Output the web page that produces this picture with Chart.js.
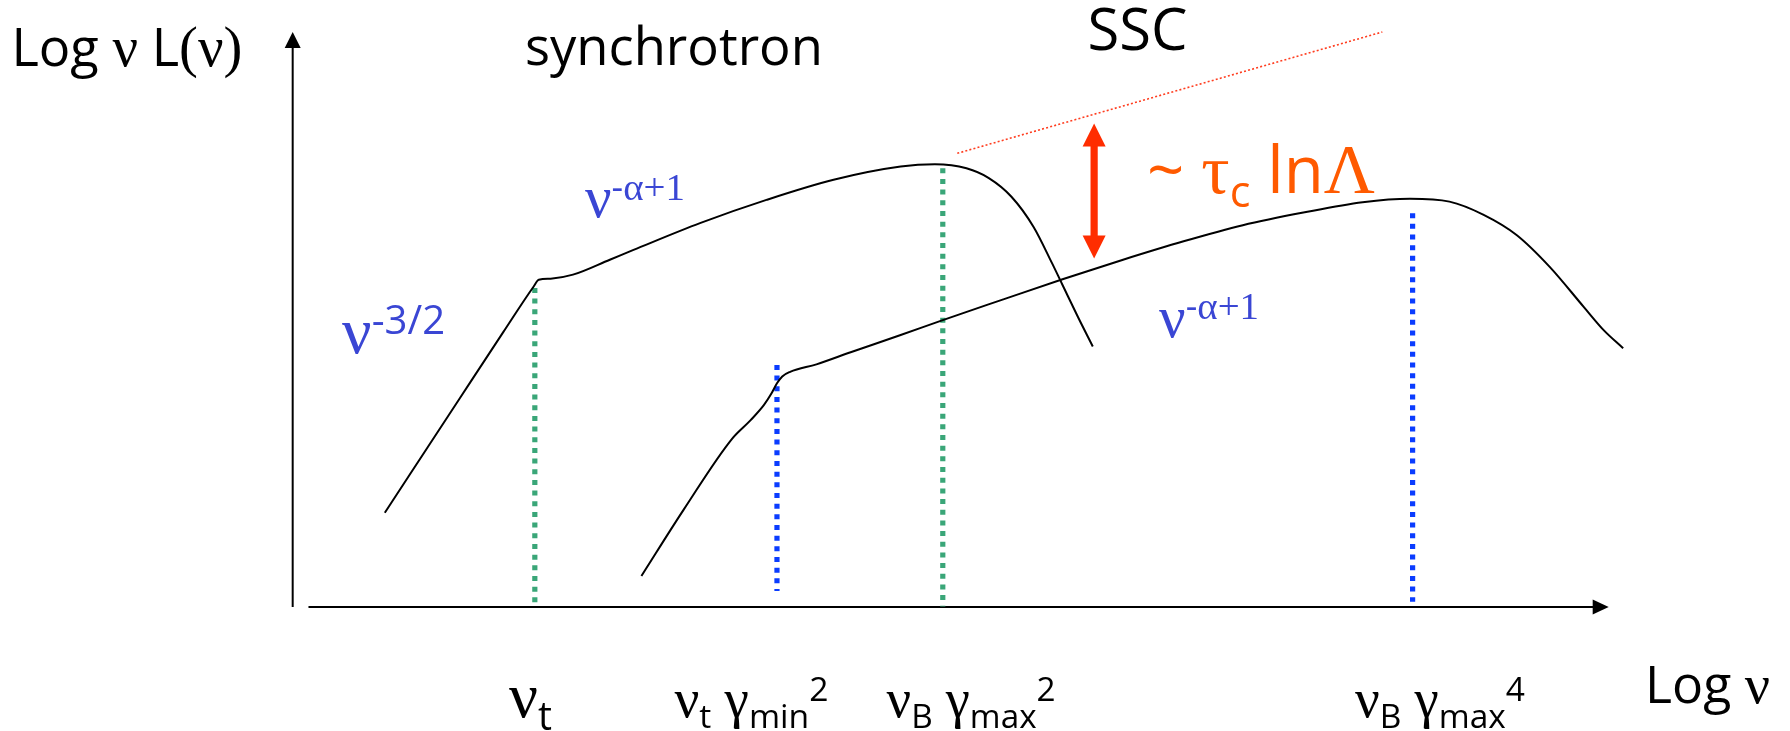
<!DOCTYPE html>
<html>
<head>
<meta charset="utf-8">
<style>
  html, body { margin: 0; padding: 0; background: #ffffff; }
  #wrap { width: 1790px; height: 731px; position: relative; }
</style>
<script src="https://cdn.jsdelivr.net/npm/chart.js@4.4.1/dist/chart.umd.min.js"></script>
</head>
<body>
<div id="wrap"><canvas id="sed" width="1790" height="731"></canvas></div>
<script>
// Schematic spectral energy distribution: log nu vs log nu L(nu), arbitrary units.

// Synchrotron component
const synchLogNu = [0.69, 1.26, 1.59, 1.82, 1.86, 1.95, 2.12, 2.40, 2.58, 3.09, 3.59, 4.10, 4.61, 4.87, 5.11, 5.28, 5.45, 5.62, 5.76, 5.84, 5.96, 6.07];
const synchLogL  = [1.64, 3.63, 4.78, 5.57, 5.69, 5.71, 5.78, 6.04, 6.21, 6.68, 7.08, 7.43, 7.66, 7.70, 7.63, 7.46, 7.14, 6.61, 5.98, 5.60, 5.03, 4.53];

// Synchrotron self-Compton component
const sscLogNu = [2.64, 2.96, 3.33, 3.47, 3.57, 3.63, 3.67, 3.71, 3.77, 3.97, 4.23, 4.61, 4.93, 5.39, 5.84, 6.30, 6.76, 7.21, 7.67, 8.12, 8.48, 8.78, 9.04, 9.29, 9.54, 9.80, 9.95, 10.10];
const sscLogL  = [0.54, 1.69, 2.93, 3.25, 3.51, 3.72, 3.89, 4.01, 4.09, 4.22, 4.43, 4.73, 4.99, 5.35, 5.70, 6.04, 6.36, 6.64, 6.86, 7.04, 7.10, 7.05, 6.82, 6.47, 5.92, 5.22, 4.82, 4.50];

// Characteristic frequencies (dotted markers) and their labels
const markLogNu   = [1.83, 3.67, 4.93, 8.50];
const markLowL    = [0.07, 0.28, 0.01, 0.09];
const markHighL   = [5.55, 4.21, 7.63, 6.85];
const markLabels  = ['ν_{t}', 'ν_{t} γ_{min}^{2}', 'ν_{B} γ_{max}^{2}', 'ν_{B} γ_{max}^{4}'];

// Extrapolated SSC level (thin dotted line) and the offset arrow
const levelLogNu = [5.04, 8.27];
const levelLogL  = [7.89, 10.0];
const offsetLogNu = 6.08;
const offsetLogL  = [6.06, 8.41];

// Axis extents
const axisMaxLogNu = 9.99;
const axisMaxLogL  = 10.0;

// ---------- styling ----------
const SANS  = '"Open Sans", "DejaVu Sans", sans-serif';
const SERIF = '"Liberation Serif", "DejaVu Serif", serif';
const GREEN = '#3aa678';
const BLUE  = '#0a3cff';
const markColors = [GREEN, BLUE, GREEN, BLUE];
const markDash   = [5, 5.67];
const LABEL_BLUE = '#3a46d4';
const ORANGE = '#ff5a00';
const ARROW_RED = '#ff2d00';

// text annotations: position in data units, width in px
const textItems = [
  { s: 'Log ν L(ν)',       x: -2.147, y: 9.409, w: 231, color: '#000' },
  { s: 'synchrotron',      x: 1.755,  y: 9.426, w: 298, color: '#000' },
  { s: 'SSC',              x: 6.030,  y: 9.687, w: 100, color: '#000' },
  { s: 'ν^{-α+1}',         x: 2.211,  y: 6.783, w: 100, color: LABEL_BLUE },
  { s: 'ν^{-3/2}',         x: 0.365,  y: 4.417, w: 103, color: LABEL_BLUE },
  { s: 'ν^{-α+1}',         x: 6.573,  y: 4.701, w: 100, color: LABEL_BLUE },
  { s: '~ τ_{c} lnΛ',      x: 6.482,  y: 7.200, w: 228, color: ORANGE },
  { s: 'Log ν',            x: 10.266, y: -1.670, w: 125, color: '#000' }
];
const markLabelX = [1.634, 2.891, 4.503, 8.062];
const markLabelW = [43, 154, 169, 170];
const markLabelY = -1.913;

// ---------- rich text (sub/superscripts, Greek in serif) ----------
function parseRich(str) {
  const runs = [];
  let buf = '', i = 0;
  const push = (t, lvl) => { if (t) runs.push({ t, lvl }); };
  while (i < str.length) {
    const ch = str[i];
    if ((ch === '_' || ch === '^') && str[i + 1] === '{') {
      push(buf, 0); buf = '';
      const j = str.indexOf('}', i);
      push(str.slice(i + 2, j), ch === '_' ? -1 : 1);
      i = j + 1;
    } else { buf += ch; i++; }
  }
  push(buf, 0);
  const isGreek = c => /[\u0370-\u03ff]/.test(c);
  const pieces = [];
  runs.forEach(r => {
    const greekRun = r.lvl !== 0 && [...r.t].some(isGreek);
    let cur = '', curSerif = null;
    for (const c of r.t) {
      let serif;
      if (greekRun) serif = c !== '-';
      else serif = isGreek(c) || c === '(' || c === ')';
      if (curSerif !== null && serif !== curSerif) {
        pieces.push({ t: cur, lvl: r.lvl, serif: curSerif }); cur = '';
      }
      cur += c; curSerif = serif;
    }
    if (cur) pieces.push({ t: cur, lvl: r.lvl, serif: curSerif });
  });
  return pieces;
}

function fontFor(p, size) {
  const s = p.lvl === 0 ? size : size * 0.66;
  const fs = p.serif ? s * 1.08 : s;
  return `${fs.toFixed(2)}px ${p.serif ? SERIF : SANS}`;
}

function drawRich(ctx, str, x, y, width, color) {
  const pieces = parseRich(str);
  const measure = size => pieces.reduce((w, p) => { ctx.font = fontFor(p, size); return w + ctx.measureText(p.t).width; }, 0);
  const size = 50 * width / measure(50);
  ctx.fillStyle = color;
  ctx.textBaseline = 'alphabetic';
  ctx.textAlign = 'left';
  let cx = x;
  pieces.forEach(p => {
    ctx.font = fontFor(p, size);
    const dy = p.lvl < 0 ? 0.22 * size : p.lvl > 0 ? -0.32 * size : 0;
    ctx.fillText(p.t, cx, y + dy);
    cx += ctx.measureText(p.t).width;
  });
}

// ---------- datasets ----------
const toPts = (xs, ys) => xs.map((x, i) => ({ x, y: ys[i] }));
const curveStyle = {
  borderColor: '#000', borderWidth: 2, pointRadius: 0, fill: false,
  cubicInterpolationMode: 'monotone'
};
const datasets = [
  { label: 'synchrotron', data: toPts(synchLogNu, synchLogL), ...curveStyle },
  { label: 'SSC', data: toPts(sscLogNu, sscLogL), ...curveStyle },
  { label: 'SSC level', data: toPts(levelLogNu, levelLogL), borderColor: '#ff3d1f', borderWidth: 1.6, borderDash: [2, 2.2], pointRadius: 0, fill: false }
];
markLogNu.forEach((x, i) => {
  datasets.push({
    label: markLabels[i],
    data: [{ x, y: markHighL[i] }, { x, y: markLowL[i] }],
    borderColor: markColors[i], borderWidth: 5.2, borderDash: markDash,
    borderCapStyle: 'butt', pointRadius: 0, fill: false
  });
});

// ---------- axes, arrow and annotations ----------
const schematicPlugin = {
  id: 'schematic',
  beforeDatasetsDraw(chart) {
    const { ctx, scales: { x: sx, y: sy } } = chart;
    const x0 = sx.getPixelForValue(-0.01), y0 = sy.getPixelForValue(0);
    const yTop = sy.getPixelForValue(axisMaxLogL);
    const xEnd = sx.getPixelForValue(axisMaxLogNu);
    ctx.save();
    ctx.strokeStyle = '#000'; ctx.fillStyle = '#000'; ctx.lineWidth = 2;
    // vertical axis
    ctx.beginPath(); ctx.moveTo(x0, y0); ctx.lineTo(x0, yTop + 14); ctx.stroke();
    ctx.beginPath(); ctx.moveTo(x0, yTop); ctx.lineTo(x0 - 8, yTop + 16); ctx.lineTo(x0 + 8, yTop + 16); ctx.closePath(); ctx.fill();
    // horizontal axis
    const xStart = sx.getPixelForValue(0.11);
    ctx.beginPath(); ctx.moveTo(xStart, y0); ctx.lineTo(xEnd - 14, y0); ctx.stroke();
    ctx.beginPath(); ctx.moveTo(xEnd, y0); ctx.lineTo(xEnd - 16, y0 - 7.5); ctx.lineTo(xEnd - 16, y0 + 7.5); ctx.closePath(); ctx.fill();
    ctx.restore();
  },
  afterDatasetsDraw(chart) {
    const { ctx, scales: { x: sx, y: sy } } = chart;
    ctx.save();
    // double-headed offset arrow
    const ax = sx.getPixelForValue(offsetLogNu);
    const aLo = sy.getPixelForValue(offsetLogL[0]);
    const aHi = sy.getPixelForValue(offsetLogL[1]);
    const hl = 23, hw = 11.5;
    ctx.fillStyle = ARROW_RED;
    ctx.fillRect(ax - 3.6, aHi + hl - 1, 7.2, aLo - aHi - 2 * hl + 2);
    ctx.beginPath(); ctx.moveTo(ax, aHi); ctx.lineTo(ax - hw, aHi + hl); ctx.lineTo(ax + hw, aHi + hl); ctx.closePath(); ctx.fill();
    ctx.beginPath(); ctx.moveTo(ax, aLo); ctx.lineTo(ax - hw, aLo - hl); ctx.lineTo(ax + hw, aLo - hl); ctx.closePath(); ctx.fill();
    // text annotations
    textItems.forEach(t => drawRich(ctx, t.s, sx.getPixelForValue(t.x), sy.getPixelForValue(t.y), t.w, t.color));
    markLabels.forEach((s, i) => drawRich(ctx, s, sx.getPixelForValue(markLabelX[i]), sy.getPixelForValue(markLabelY), markLabelW[i], '#000'));
    ctx.restore();
  }
};

new Chart(document.getElementById('sed'), {
  type: 'line',
  data: { datasets },
  options: {
    responsive: false,
    animation: false,
    events: [],
    layout: { padding: { left: 30.8, right: 48.4, top: 3.25, bottom: 9 } },
    plugins: { legend: { display: false }, tooltip: { enabled: false } },
    scales: {
      x: { type: 'linear', min: -2, max: 11, display: false },
      y: { type: 'linear', min: -2, max: 10.5, display: false }
    }
  },
  plugins: [schematicPlugin]
});
</script>
</body>
</html>
